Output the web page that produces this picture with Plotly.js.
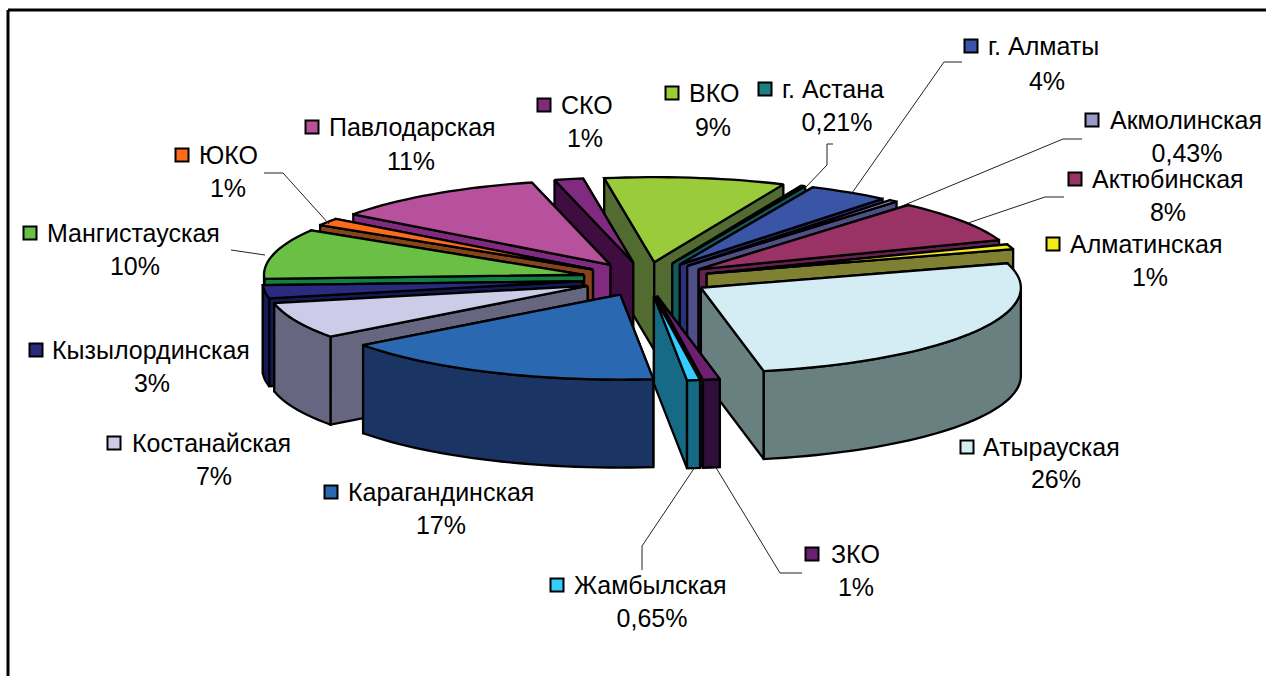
<!DOCTYPE html>
<html><head><meta charset="utf-8">
<script src="https://cdn.plot.ly/plotly-3.0.1.min.js"></script>
<style>html,body{margin:0;padding:0;background:#fff}#c{width:1266px;height:676px}</style>
</head><body><div id="c"></div>
<script>
// data: shares, in chart order (clockwise from the back)
const categories = ['ВКО','г. Астана','г. Алматы','Акмолинская','Актюбинская','Алматинская','Атырауская','ЗКО','Жамбылская','Карагандинская','Костанайская','Кызылординская','Мангистауская','ЮКО','Павлодарская','СКО'];
const shares = [9.11,0.21,4.1,0.43,8.05,0.95,26.5,0.85,0.65,16.5,6.9,2.5,9.5,1.4,10.9,1.45];
const shareLabels = ['9%','0,21%','4%','0,43%','8%','1%','26%','1%','0,65%','17%','7%','3%','10%','1%','11%','1%'];
// styles
const topColors = ['#99CB3B','#1C7F83','#3A55A5','#9999CC','#993366','#F4EC16','#D4EDF4','#6B2070','#33CCFF','#2A69B2','#CCCCE8','#2A2A80','#6ABF45','#FA6B1C','#B8519C','#802A80'];
const sideColors = ['#516B31','#15595C','#2A2F80','#4F4F85','#66224F','#808033','#688080','#2F0E3A','#166A85','#1A3563','#666680','#141A55','#128040','#85441A','#802A80','#400D40'];
// label placement
const keyX = [672,765,971,1092,1075,1053,967,812,557,331,114,36,30,182,312,544];
const keyY = [93,89,46,120,179,244,447,554,585,492,443,350,233,155,127,105];
const nameX = [689,782,988,1110,1092,1070,983,831,574,348,132,52,47,199,329,561];
const pctX = [713,837,1047,1187,1168,1150,1056,856,652,441,214,152,135,228,411,585];
const pctY = [130,125,84,156,215,280,482,590,621,528,479,386,269,191,164,141];
const leaders = [
 [[833,827,827,805],[144,144,165,188]],
 [[962,944,852],[62,62,193]],
 [[1082,1063,902],[139,139,206]],
 [[1064,1045,968],[197,197,223]],
 [[264,283,329],[173,173,224]],
 [[231,265],[250,255]],
 [[802,780,715],[573,573,466]],
 [[642,642,695],[570,546,467]]
];
// projection
const CX=646, CY=279, RX=320, RY=85, DEPTH=88, EXPLODE=0.2, START=-9;
const rad = d => d*Math.PI/180;
const total = shares.reduce((a,b)=>a+b,0);
let acc = START;
const slices = shares.map((v,i)=>{
  const a0=acc, a1=acc+v/total*360; acc=a1;
  const m=(a0+a1)/2;
  return {i,a0,a1,m,ax:CX+EXPLODE*RX*Math.sin(rad(m)),ay:CY-EXPLODE*RY*Math.cos(rad(m))};
});
const pt=(s,t)=>[s.ax+RX*Math.sin(rad(t)), s.ay-RY*Math.cos(rad(t))];
const arc=(s,a,b)=>{const n=Math.max(2,Math.ceil((b-a)/2));const o=[];for(let k=0;k<=n;k++)o.push(pt(s,a+(b-a)*k/n));return o;};
const poly=(pts,fill,name)=>({type:'scatter',mode:'lines',x:pts.map(p=>p[0]),y:pts.map(p=>p[1]),fill:'toself',fillcolor:fill,
  line:{color:'#000',width:2.3,simplify:false},hoverinfo:'skip',showlegend:false,name});
const traces=[];
const order=[...slices].sort((p,q)=>Math.cos(rad(q.m))-Math.cos(rad(p.m)));
order.forEach(s=>{
  const side=sideColors[s.i], top=topColors[s.i], nm=categories[s.i];
  const faces=[s.a0,s.a1].map(t=>{const o=pt(s,t);return [[s.ax,s.ay],o,[o[0],o[1]+DEPTH],[s.ax,s.ay+DEPTH],[s.ax,s.ay]];});
  faces.sort((f,g)=>f[1][1]-g[1][1]);
  faces.forEach(f=>traces.push(poly(f,side,nm)));
  const w0=Math.max(s.a0,90), w1=Math.min(s.a1,270);
  if(w1>w0){
    const up=arc(s,w0,w1), down=up.map(p=>[p[0],p[1]+DEPTH]).reverse();
    traces.push(poly([...up,...down,up[0]],side,nm));
  }
  traces.push(poly([[s.ax,s.ay],...arc(s,s.a0,s.a1),[s.ax,s.ay]],top,nm));
});
leaders.forEach(l=>traces.push({type:'scatter',mode:'lines',x:l[0],y:l[1],line:{color:'#222',width:1},hoverinfo:'skip',showlegend:false}));
traces.push({type:'scatter',mode:'markers',x:keyX,y:keyY,marker:{symbol:'square',size:13,color:topColors,line:{color:'#000',width:2}},hoverinfo:'skip',showlegend:false});
const font={family:'"Liberation Sans",Arial,sans-serif',size:25,color:'#000'};
traces.push({type:'scatter',mode:'text',x:nameX,y:keyY.map(v=>v+3),text:categories,textposition:'middle right',textfont:font,hoverinfo:'skip',showlegend:false,cliponaxis:false});
traces.push({type:'scatter',mode:'text',x:pctX,y:pctY,text:shareLabels,textposition:'middle center',textfont:font,hoverinfo:'skip',showlegend:false,cliponaxis:false});
const ax={visible:false,showgrid:false,zeroline:false,fixedrange:true};
Plotly.newPlot('c',traces,{
  width:1266,height:676,margin:{l:0,r:0,t:0,b:0},paper_bgcolor:'#fff',plot_bgcolor:'#fff',showlegend:false,
  xaxis:{...ax,range:[0,1266]},yaxis:{...ax,range:[676,0]},
  shapes:[{type:'line',xref:'paper',yref:'paper',x0:8/1266,x1:1,y0:1-10/676,y1:1-10/676,line:{color:'#000',width:3}},
          {type:'line',xref:'paper',yref:'paper',x0:8/1266,x1:8/1266,y0:0,y1:1-10/676,line:{color:'#000',width:3}}]
},{staticPlot:true,displayModeBar:false});
</script></body></html>
